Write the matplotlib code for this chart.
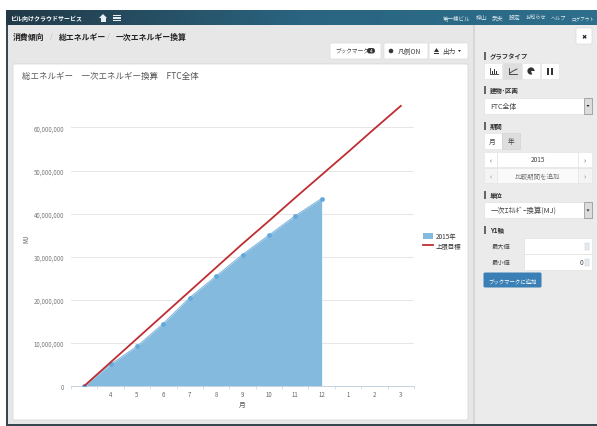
import numpy as np
import matplotlib
matplotlib.use("Agg")
import matplotlib.pyplot as plt
from matplotlib.patches import FancyBboxPatch, Rectangle, Polygon, Circle, Wedge

plt.rcParams["font.family"] = ["Noto Sans CJK JP", "DejaVu Sans"]

W, H = 597, 427

months = ["", "4", "5", "6", "7", "8", "9", "10", "11", "12", "1", "2", "3"]
actual_2015 = [0, 5000000, 9200000, 14500000, 20500000, 25500000, 30500000,
               35000000, 39500000, 43500000]
target = [0, 5500000, 11000000, 16500000, 22000000, 27500000, 33000000,
          38300000, 43700000, 49000000, 54300000, 59700000, 65000000]
y_ticks = [0, 10000000, 20000000, 30000000, 40000000, 50000000, 60000000]

fig = plt.figure(figsize=(W / 100, H / 100), dpi=100, facecolor="white")

# page furniture is laid out in pixels on a full-figure axes
ui = fig.add_axes([0, 0, 1, 1])
ui.set_xlim(0, W)
ui.set_ylim(H, 0)
ui.axis("off")


def box(x, y, w, h, fc="white", ec="none", lw=0.6, z=1):
    ui.add_patch(Rectangle((x, y), w, h, fc=fc, ec=ec, lw=lw, zorder=z))


def card(x, y, w, h, fc="white", ec="#dcdcdc", z=2):
    ui.add_patch(FancyBboxPatch((x + 1, y + 1), w - 2, h - 2, boxstyle="round,pad=1,rounding_size=1.5",
                                fc=fc, ec=ec, lw=0.5, zorder=z))


def label(x, y, s, size=4.6, color="#444444", weight="normal", ha="left", z=4):
    ui.text(x, y, s, fontsize=size, color=color, fontweight=weight, ha=ha, va="center", zorder=z)


def section(x, y, s):
    box(x, y - 4, 1.6, 8, fc="#666666", z=3)
    label(x + 6, y, s, size=4.6, color="#333333", weight="bold")


# background, window edge and side panel
box(7, 11, 590, 414, fc="#e7e7e7", z=0)
box(6, 11, 2, 416, fc="#37474f", z=1)
box(6, 424.5, 591, 2.5, fc="#37474f", z=1)
box(473, 26, 2, 399, fc="#d6d6d6", z=1)
box(475, 26, 122, 399, fc="#ebebeb", z=0.5)

# header bar
grad = np.linspace(0, 1, 256).reshape(1, -1)
cmap = matplotlib.colors.LinearSegmentedColormap.from_list("bar", ["#223a48", "#2a6480", "#2d6f8c"])
ui.imshow(grad, extent=(6, W, 26, 11), aspect="auto", cmap=cmap, zorder=1)
ui.set_xlim(0, W)
ui.set_ylim(H, 0)
label(10, 18.5, "ビル向けクラウドサービス", size=4.3, color="white", weight="bold")
ui.add_patch(Polygon([(99, 19), (103, 15), (107, 19)], fc="#e8eef2", ec="none", zorder=3))
box(100.5, 19, 5, 3.5, fc="#e8eef2", z=3)
for yy in (15.5, 18, 20.5):
    box(113, yy, 8, 1.5, fc="#e8eef2", z=3)
for xx, s, fs in [(443, "第一棟ビル", 4.0), (476, "梓山", 4.2), (492, "武夫", 4.2), (509, "設定", 4.2),
                  (526, "お知らせ", 3.7), (551, "ヘルプ", 3.7), (571, "ログアウト", 3.3)]:
    label(xx, 18.7, s, size=fs, color="#dce8ee")

# breadcrumb
label(13, 37.5, "消費傾向", size=5.7, color="#222222", weight="bold")
label(50, 37.5, "/", size=5.5, color="#bbbbbb")
label(59, 37.5, "総エネルギー", size=5.7, color="#222222", weight="bold")
label(107, 37.5, "/", size=5.5, color="#bbbbbb")
label(116, 37.5, "一次エネルギー換算", size=5.7, color="#222222", weight="bold")

# toolbar above the chart
card(330, 44, 51, 16)
label(335, 51.8, "ブックマーク", size=4.1)
ui.add_patch(FancyBboxPatch((367, 49), 8, 5.5, boxstyle="round,pad=0,rounding_size=2.7", fc="#333333", ec="none", zorder=3))
label(371, 51.8, "4", size=3.5, color="white", ha="center")
card(384, 44, 44, 16)
ui.add_patch(Circle((391, 52), 2, fc="#333333", ec="#333333", lw=0.4, zorder=3))
label(398, 51.8, "凡例ON", size=4.9)
card(429, 44, 39, 16)
ui.add_patch(Polygon([(434, 53), (439, 53), (436.5, 49)], fc="#333333", ec="none", zorder=3))
box(434, 54, 5, 1.2, fc="#333333", z=3)
label(442, 51.8, "出力", size=4.8)
ui.add_patch(Polygon([(458, 51), (461, 51), (459.5, 53)], fc="#333333", ec="none", zorder=3))

# chart panel
card(13, 65, 455, 356, ec="#d4d4d4")
label(22, 76, "総エネルギー　一次エネルギー換算　FTC全体", size=6.1, color="#555555")

# side panel controls
card(576, 29, 16, 16)
label(584, 37, "✖", size=4.5, color="#222222", ha="center")

section(484, 56.5, "グラフタイプ")
for i, xx in enumerate((484, 503, 522, 541)):
    box(xx, 64, 18, 15.5, fc="#dedede" if i == 1 else "white", ec="#e0e0e0", lw=0.4, z=2)
ui.plot([490, 490, 498], [69, 75, 75], color="#333333", lw=0.6, zorder=3)
ui.plot([509, 509, 517], [69, 75, 75], color="#333333", lw=0.6, zorder=3)
ui.plot([510, 513, 517], [74, 72, 70], color="#333333", lw=0.6, zorder=3)
for xx, hh in [(492, 3), (494, 4.5), (496, 2.5)]:
    box(xx, 74.5 - hh, 1.2, hh, fc="#333333", z=3)
ui.add_patch(Wedge((531, 72), 3.6, 70, 360, fc="#333333", ec="none", zorder=3))
box(547, 68.5, 2.2, 7, fc="#333333", z=3)
box(551, 68.5, 2.2, 7, fc="#333333", z=3)

section(484, 91, "建物･区画")
box(484, 99, 108, 15.5, fc="white", ec="#dddddd", lw=0.4, z=2)
box(584, 99, 8, 15.5, fc="#dcdcdc", ec="#777777", lw=0.4, z=3)
ui.add_patch(Polygon([(586.5, 106), (589.5, 106), (588, 108)], fc="#222222", ec="none", zorder=4))
label(490, 107, "FTC全体", size=5.0)

section(484, 127, "期間")
box(484, 134, 18, 15.5, fc="white", ec="#e0e0e0", lw=0.4, z=2)
box(502, 134, 18, 15.5, fc="#dedede", ec="#cfcfcf", lw=0.4, z=2)
label(492.5, 142, "月", size=4.8, ha="center")
label(510.5, 142, "年", size=4.8, ha="center")
for yy, fc, txt, col in [(153, "white", "2015", "#444444"), (169, "#f4f4f4", "比較期間を追加", "#777777")]:
    box(484, yy, 13, 15, fc=fc, ec="#e2e2e2", lw=0.4, z=2)
    box(497, yy, 81, 15, fc=fc if fc == "white" else "#fafafa", ec="#e2e2e2", lw=0.4, z=2)
    box(578, yy, 14, 15, fc=fc, ec="#e2e2e2", lw=0.4, z=2)
    label(490.5, yy + 7.5, "‹", size=5, color=col, ha="center")
    label(585, yy + 7.5, "›", size=5, color=col, ha="center")
    label(537.5, yy + 7.5, txt, size=4.7, color=col, ha="center")

section(484, 196, "単位")
box(484, 203, 108, 16, fc="white", ec="#dddddd", lw=0.4, z=2)
box(584, 203, 8, 16, fc="#dcdcdc", ec="#777777", lw=0.4, z=3)
ui.add_patch(Polygon([(586.5, 210.5), (589.5, 210.5), (588, 212.5)], fc="#222222", ec="none", zorder=4))
label(491, 211, "一次ｴﾈﾙｷﾞｰ換算(MJ)", size=5.3)

section(484, 231, "Y1軸")
box(524, 239, 68, 15.5, fc="white", ec="#dddddd", lw=0.4, z=2)
box(524, 255, 68, 15.5, fc="white", ec="#dddddd", lw=0.4, z=2)
label(492, 247, "最大値", size=4.5)
label(492, 263, "最小値", size=4.5)
label(581, 263, "0", size=4.6, ha="center")
for yy in (247, 263):
    box(584.5, yy - 3.5, 4.5, 7, fc="#e6ecf2", ec="#b8c4d0", lw=0.3, z=3)
ui.add_patch(FancyBboxPatch((483.5, 273.5), 58, 15, boxstyle="round,pad=0,rounding_size=1.5", fc="#3a7fb5", ec="none", zorder=2))
label(512.5, 281.5, "ブックマークに追加", size=3.9, color="white", ha="center")

# the chart itself
left, right, top, bottom = 71, 414, 100, 387
ax = fig.add_axes([left / W, 1 - bottom / H, (right - left) / W, (bottom - top) / H])
ax.patch.set_alpha(0)
ax.set_zorder(5)
x = np.arange(len(months))
ax.set_xlim(-0.5, len(months) - 0.5)
ax.set_ylim(0, 66600000)

xa = x[:len(actual_2015)]
ax.fill_between(xa, actual_2015, 0, color="#85badf", lw=0, zorder=2, label="2015年")
ax.plot(xa, actual_2015, color="#85badf", lw=0.8, marker="o", ms=2.4,
        mfc="#62a9dc", mec="#62a9dc", zorder=3)
ax.plot(x, target, color="#bf2d33", lw=1.3, zorder=4, label="上限目標")

ax.set_yticks(y_ticks)
ax.set_yticklabels([f"{v:,}" for v in y_ticks])
ax.set_xticks(x)
ax.set_xticklabels(months)
ax.set_xticks(np.arange(-0.5, len(months)), minor=True)
ax.tick_params(axis="x", which="major", length=0, pad=3, labelsize=4.4, labelcolor="#666666")
ax.tick_params(axis="x", which="minor", length=2, width=0.5, color="#c5d3e0")
ax.tick_params(axis="y", length=0, pad=5, labelsize=4.4, labelcolor="#777777")
ax.grid(axis="y", color="#e6e6e6", lw=0.7, zorder=1)
ax.set_axisbelow(True)
for side in ("top", "right", "left"):
    ax.spines[side].set_visible(False)
ax.spines["bottom"].set_color("#c5d3e0")
ax.spines["bottom"].set_linewidth(0.7)
ax.set_xlabel("月", fontsize=4.8, color="#555555", labelpad=1)
ax.set_ylabel("MJ", fontsize=4.4, color="#555555")
ax.yaxis.set_label_coords(-0.119, 0.515)

ax.legend(loc="upper left", bbox_to_anchor=(1.026, 0.537), frameon=False, fontsize=4.6,
          labelcolor="#333333", handlelength=1.6, handleheight=1.1, handletextpad=0.4, labelspacing=0.35,
          borderaxespad=0, borderpad=0)

fig.savefig("out.png", dpi=100)
